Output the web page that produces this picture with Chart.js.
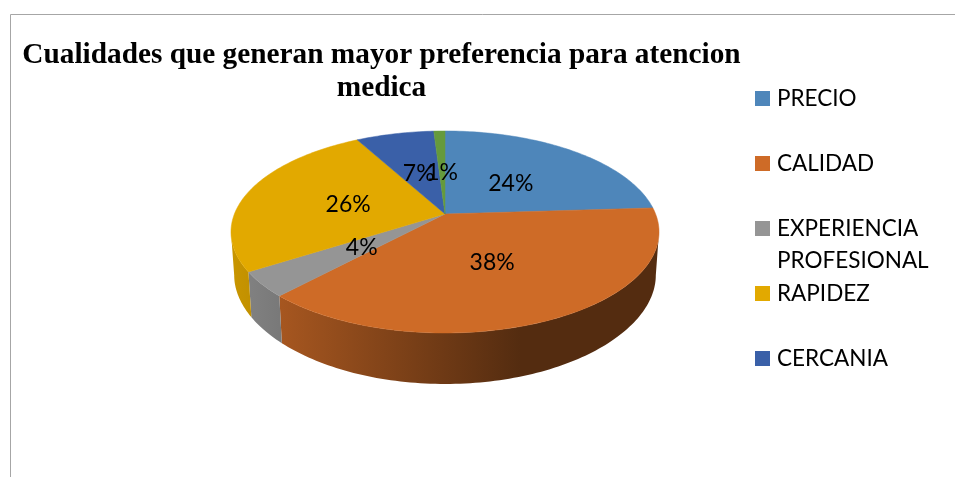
<!DOCTYPE html>
<html>
<head>
<meta charset="utf-8">
<style>html,body{margin:0;padding:0;background:#fff}canvas{display:block}</style>
<script src="https://cdn.jsdelivr.net/npm/chart.js@4"></script>
</head>
<body>
<div style="width:955px;height:477px"><canvas id="c" width="955" height="477"></canvas></div>
<script>
const titleLines = ["Cualidades que generan mayor preferencia para atencion", "medica"];
const categories = ["PRECIO", "CALIDAD", "EXPERIENCIA PROFESIONAL", "RAPIDEZ", "CERCANIA", ""];
const values = [24, 38, 4, 26, 7, 1];
const colors = ["#4E86BA", "#CE6B27", "#959595", "#E2A900", "#3A60A8", "#659A3C"];

// Perspective description of the tilted disc
const disc = {cx: 445, cy: 214, a: 210.6, b: 97.8, k: 0.178, wallX: 0.985, labelR: 0.485};
function project(ang, r) {
  const u = r * Math.cos(ang), v = r * Math.sin(ang), w = 1 - disc.k * v;
  return {x: disc.cx + disc.a * u / w, y: disc.cy + disc.b * v / w, v};
}
function bottom(ang) {
  const p = project(ang, 1);
  return {x: disc.cx + (p.x - disc.cx) * disc.wallX, y: p.y + 43 + 8 * p.v * p.v};
}
function shade(hex, f) {
  const n = parseInt(hex.slice(1), 16);
  return `rgb(${Math.round((n >> 16) * f)},${Math.round(((n >> 8) & 255) * f)},${Math.round((n & 255) * f)})`;
}
function samples(s, e) {
  const n = Math.max(2, Math.ceil((e - s) / 0.02)), out = [];
  for (let i = 0; i <= n; i++) out.push(s + (e - s) * i / n);
  return out;
}
const pie3d = {
  id: 'pie3d',
  beforeDraw(chart) {
    const ctx = chart.ctx;
    ctx.save();
    ctx.fillStyle = '#fff';
    ctx.fillRect(0, 0, chart.width, chart.height);
    ctx.strokeStyle = '#a6a6a6';
    ctx.lineWidth = 1;
    ctx.beginPath();
    ctx.moveTo(10.5, chart.height);
    ctx.lineTo(10.5, 14.5);
    ctx.lineTo(chart.width, 14.5);
    ctx.stroke();
    ctx.restore();
  },
  beforeDatasetDraw(chart) {
    const ctx = chart.ctx, arcs = chart.getDatasetMeta(0).data;
    ctx.save();
    // side walls: only the part of the rim that faces the viewer
    const front0 = Math.asin(disc.k), front1 = Math.PI - front0;
    arcs.forEach((arc, i) => {
      const s = Math.max(arc.startAngle, front0), e = Math.min(arc.endAngle, front1);
      if (e <= s) return;
      const g = ctx.createLinearGradient(231, 0, 520, 0);
      g.addColorStop(0, shade(colors[i], 0.89));
      g.addColorStop(1, shade(colors[i], 0.41));
      const pts = samples(s, e);
      ctx.beginPath();
      pts.forEach((a, j) => { const p = project(a, 1); j ? ctx.lineTo(p.x, p.y) : ctx.moveTo(p.x, p.y); });
      pts.slice().reverse().forEach(a => { const p = bottom(a); ctx.lineTo(p.x, p.y); });
      ctx.closePath();
      ctx.fillStyle = g;
      ctx.fill();
    });
    // top faces
    arcs.forEach((arc, i) => {
      ctx.beginPath();
      ctx.moveTo(disc.cx, disc.cy);
      samples(arc.startAngle, arc.endAngle).forEach(a => { const p = project(a, 1); ctx.lineTo(p.x, p.y); });
      ctx.closePath();
      ctx.fillStyle = colors[i];
      ctx.strokeStyle = colors[i];
      ctx.lineWidth = 0.5;
      ctx.fill();
      ctx.stroke();
    });
    // value labels
    const total = values.reduce((s, x) => s + x, 0);
    ctx.fillStyle = '#000';
    ctx.font = '23px Lato';
    ctx.textAlign = 'center';
    ctx.textBaseline = 'middle';
    arcs.forEach((arc, i) => {
      const p = project((arc.startAngle + arc.endAngle) / 2, disc.labelR);
      ctx.fillText(Math.round(values[i] / total * 100) + '%', p.x, p.y + 2);
    });
    ctx.restore();
    return false;
  },
  afterDraw(chart) {
    const ctx = chart.ctx;
    ctx.save();
    ctx.font = '22.5px Lato';
    ctx.textAlign = 'left';
    ctx.textBaseline = 'middle';
    categories.forEach((label, i) => {
      if (!label) return;
      const y = 98 + 65 * i;
      ctx.fillStyle = colors[i];
      ctx.fillRect(755, y - 7, 15, 15);
      ctx.fillStyle = '#000';
      label.split(' ').forEach((line, j) => ctx.fillText(line, 777, y + 1 + 32 * j));
    });
    ctx.restore();
  }
};
new Chart(document.getElementById('c'), {
  type: 'pie',
  data: {labels: categories, datasets: [{data: values, backgroundColor: colors, borderWidth: 0}]},
  plugins: [pie3d],
  options: {
    responsive: false,
    animation: false,
    layout: {padding: {right: 192}},
    plugins: {
      legend: {display: false},
      tooltip: {enabled: false},
      title: {
        display: true,
        text: titleLines,
        fullSize: false,
        color: '#000',
        font: {family: '"Liberation Serif"', size: 29.3, weight: 'bold', lineHeight: 1.13},
        padding: {top: 39, bottom: 0}
      }
    }
  }
});
</script>
</body>
</html>
